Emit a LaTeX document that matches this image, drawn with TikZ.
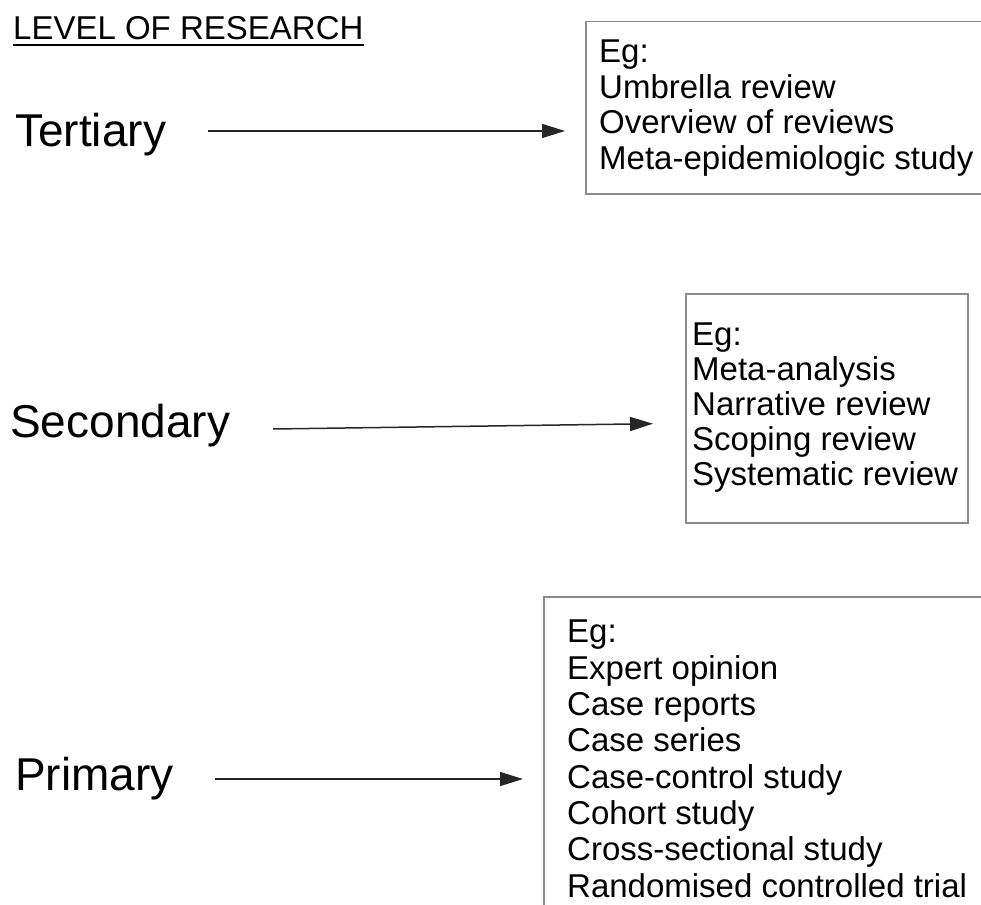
\documentclass[tikz,border=0pt]{standalone}
\usepackage{fontspec}
\setmainfont{Liberation Sans}
\usetikzlibrary{arrows.meta}

\tikzset{
  level/.style={anchor=base west, inner sep=0pt, font=\fontsize{46}{50}\selectfont},
  examples/.style={anchor=north west, inner sep=0pt, align=left},
  listbox/.style={draw=black!45, line width=1.5pt, anchor=north west, inner sep=0pt},
  link/.style={draw=black!85, line width=1.5pt, arrows={-Triangle[length=23pt,width=14pt]}}
}

\begin{document}
\begin{tikzpicture}[x=1pt,y=-1pt]
\useasboundingbox (0,0) rectangle (981,904);
\clip (0,0) rectangle (981,904);

% Titulo
\node[anchor=base west, inner sep=0pt, font=\fontsize{33}{36}\selectfont] (title) at (13,40) {LEVEL OF RESEARCH};
\draw[line width=2pt] ([yshift=-5pt]title.base west) -- ([yshift=-5pt]title.base east);

% Niveles
\node[level] (tert) at (15,147) {Tertiary};
\node[level] (sec) at (10,437) {Secondary};
\node[level] (prim) at (15,790) {Primary};

% Cajas
\node[listbox, minimum width=420pt, minimum height=172pt] (tbox) at (585,21) {};
\node[listbox, minimum width=282pt, minimum height=229pt] (sbox) at (685,293) {};
\node[listbox, minimum width=460pt, minimum height=330pt] (pbox) at (543,596) {};

% Ejemplos
\node[examples, font=\fontsize{33}{35.5}\selectfont] (tlist) at (599,40)
  {Eg:\\Umbrella review\\Overview of reviews\\Meta-epidemiologic study};
\node[examples, font=\fontsize{33}{35}\selectfont] (slist) at (692,323)
  {Eg:\\Meta-analysis\\Narrative review\\Scoping review\\Systematic review};
\node[examples, font=\fontsize{33}{36.3}\selectfont] (plist) at (567,620)
  {Eg:\\Expert opinion\\Case reports\\Case series\\Case-control study\\Cohort study\\Cross-sectional study\\Randomised controlled trial};

% Flechas
\coordinate (tout) at (208,131);
\coordinate (sout) at (273,429);
\coordinate (pout) at (215,779);
\draw[link, shorten >=20pt] (tout) -- (tout -| tbox.west);
\draw[link, shorten >=32pt] (sout) -- ([yshift=-15pt]sbox.west);
\draw[link, shorten >=20pt] (pout) -- (pout -| pbox.west);

\end{tikzpicture}
\end{document}
